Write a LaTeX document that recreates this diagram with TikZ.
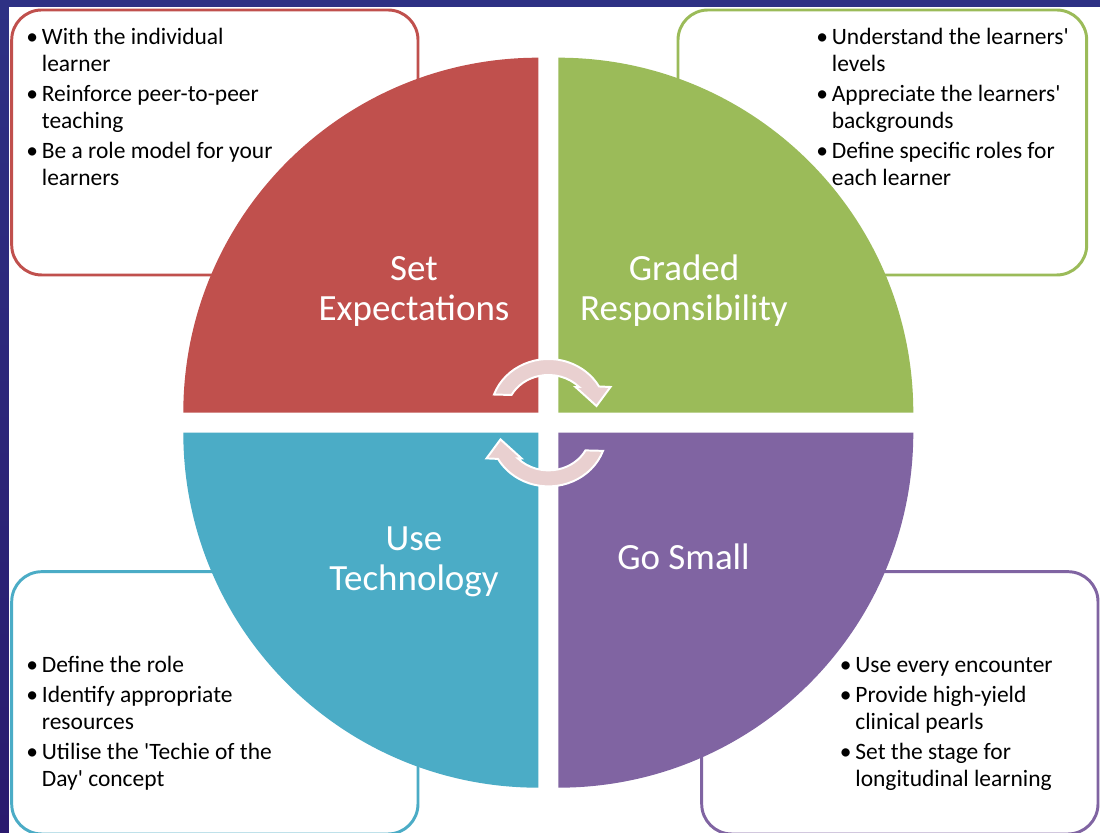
\documentclass[tikz,border=0pt]{standalone}
\usepackage{fontspec}
\setmainfont{Carlito}[Ligatures=TeXOff]
\usepackage{xcolor}
\usepackage{tikz}

\definecolor{setred}{RGB}{192,80,77}
\definecolor{gradgreen}{RGB}{155,187,89}
\definecolor{techblue}{RGB}{75,172,198}
\definecolor{smallpurple}{RGB}{128,100,162}
\definecolor{arrowpink}{RGB}{233,208,208}
\definecolor{frametop}{RGB}{46,49,132}
\definecolor{framebot}{RGB}{42,26,110}

% bullet with a fixed hang
\newcommand{\bl}{\makebox[0.39cm][l]{\textbullet}}
% one curved arrow, drawn round the origin
\newcommand{\turnarrow}{%
  \filldraw[fill=arrowpink, draw=white, line width=1.4pt]
    (160:58 and 54) arc[start angle=160, end angle=29.4, x radius=58, y radius=54]
    -- (62,26) -- (48,7) -- (27,26)
    -- (43.2:42 and 38) arc[start angle=43.2, end angle=151.7, x radius=42, y radius=38]
    -- cycle;}

\begin{document}
\begin{tikzpicture}[x=0.025cm, y=0.025cm,
    box/.style={line width=2.1pt, rounded corners=0.75cm},
    title/.style={text=white, align=center, inner sep=0pt, font=\fontsize{26.3}{28.45}\selectfont},
    bullets/.style={inner sep=0pt, font=\fontsize{16.7}{19}\selectfont}]
      \useasboundingbox (0,0) rectangle (1100,833);
      \fill[top color=frametop, bottom color=framebot] (0,0) rectangle (1100,833);
      \fill[white] (9,0) rectangle (1100,825.5);

      % boxes behind the quarters
      \draw[box, setred] (11.7,558) rectangle (418,823);
      \draw[box, gradgreen] (678,558) rectangle (1086.7,823);
      \draw[box, techblue] (11.7,-1) rectangle (418,261.3);
      \draw[box, smallpurple] (701.7,-1) rectangle (1098,261.3);

      % the four quarters
      \fill[setred] (538.3,420.3) -- ++(-355,0) arc[start angle=180, end angle=90, radius=355] -- cycle;
      \fill[gradgreen] (558.3,420.3) -- ++(0,355) arc[start angle=90, end angle=0, radius=355] -- cycle;
      \fill[techblue] (538.3,400.3) -- ++(0,-355) arc[start angle=270, end angle=180, radius=355] -- cycle;
      \fill[smallpurple] (558.3,400.3) -- ++(355,0) arc[start angle=0, end angle=-90, radius=355] -- cycle;

      \begin{scope}[shift={(548.5,420)}] \turnarrow \end{scope}
      \begin{scope}[shift={(548.5,400.6)}, rotate=180] \turnarrow \end{scope}

      % base = last line of each title
      \node[title, anchor=base] (expect) at (414,512) {Set\\Expectations};
      \node[title, anchor=base] (graded) at (684,512) {Graded\\Responsibility};
      \node[title, anchor=base] (tech) at (414,242) {Use\\Technology};
      \node[title, anchor=base] (small) at (683.5,263.5) {Go Small};

      \node[bullets, anchor=base west] (expectlist) at (26,788) {\begin{tabular}[t]{@{}l@{}l@{}}
        \bl & With the individual\\ & learner\\[2.3pt]
        \bl & Reinforce peer-to-peer\\ & teaching\\[2.3pt]
        \bl & Be a role model for your\\ & learners
      \end{tabular}};
      \node[bullets, anchor=base west] (gradedlist) at (816,788) {\begin{tabular}[t]{@{}l@{}l@{}}
        \bl & Understand the learners'\\ & levels\\[2.3pt]
        \bl & Appreciate the learners'\\ & backgrounds\\[2.3pt]
        \bl & Define specific roles for\\ & each learner
      \end{tabular}};
      \node[bullets, anchor=base west] (techlist) at (26,160) {\begin{tabular}[t]{@{}l@{}l@{}}
        \bl & Define the role\\[2.3pt]
        \bl & Identify appropriate\\ & resources\\[2.3pt]
        \bl & Utilise the 'Techie of the\\ & Day' concept
      \end{tabular}};
      \node[bullets, anchor=base west] (smalllist) at (839.5,160) {\begin{tabular}[t]{@{}l@{}l@{}}
        \bl & Use every encounter\\[2.3pt]
        \bl & Provide high-yield\\ & clinical pearls\\[2.3pt]
        \bl & Set the stage for\\ & longitudinal learning
      \end{tabular}};
    \end{tikzpicture}
\end{document}
